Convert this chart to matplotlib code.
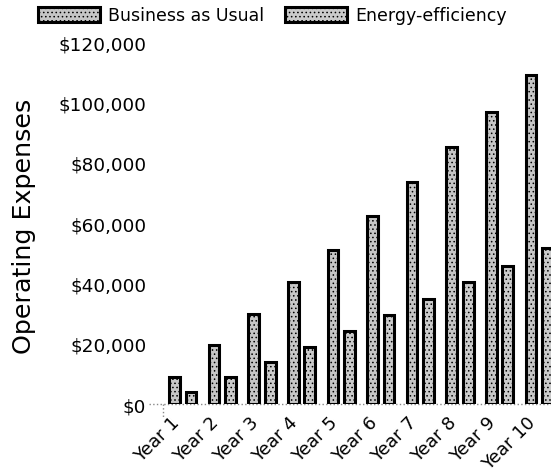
import numpy as np
import matplotlib
matplotlib.use("Agg")
import matplotlib.pyplot as plt
from matplotlib.ticker import FuncFormatter

# yearly operating expenses, dollars
years = ["Year 1", "Year 2", "Year 3", "Year 4", "Year 5",
         "Year 6", "Year 7", "Year 8", "Year 9", "Year 10"]
business_as_usual = [9200, 19500, 30000, 40500, 51200, 62500, 73700, 85300, 96900, 109000]
energy_efficiency = [4000, 9000, 13900, 18900, 24200, 29500, 34900, 40400, 46000, 51900]

plt.rcParams["hatch.linewidth"] = 0.6
plt.rcParams["hatch.color"] = "#7a7a7a"

fig = plt.figure(figsize=(5.51, 4.77), dpi=100)
# axes runs a little past the right edge, so the last bar gets clipped
ax = fig.add_axes([0.2957, 0.1503, 0.7187, 0.7589])

x = np.arange(len(years))
w = 0.27
off = 0.208
b1 = ax.bar(x - off, business_as_usual, w, color="#c6c6c6", edgecolor="black",
            linewidth=2.2, hatch="....", label="Business as Usual", zorder=3)
b2 = ax.bar(x + off, energy_efficiency, w, color="#cbcbcb", edgecolor="black",
            linewidth=2.2, hatch="....", label="Energy-efficiency", zorder=3)

ax.set_xlim(-0.5, 9.5)
ax.set_ylim(0, 120000)
ax.set_yticks(range(0, 120001, 20000))
ax.yaxis.set_major_formatter(FuncFormatter(lambda v, p: "${:,.0f}".format(v)))
ax.tick_params(axis="y", length=0, pad=12, labelsize=13.3)
ax.set_xticks(x)
ax.set_xticklabels(years, rotation=45, ha="right", fontsize=13)
ax.tick_params(axis="x", length=0, pad=6)

for s in ax.spines.values():
    s.set_visible(False)

# dotted baseline with a stub below the left end
ax.plot([-0.035, 1.0], [0, 0], transform=ax.transAxes, color="#888888",
        linestyle=":", linewidth=1, clip_on=False, zorder=2)
ax.plot([0, 0], [0, -0.035], transform=ax.transAxes, color="#888888",
        linestyle=":", linewidth=1, clip_on=False, zorder=2)

fig.text(24 / 551, 1 - 226 / 477, "Operating Expenses", rotation=90,
         ha="center", va="center", fontsize=18.3)

fig.legend(handles=[b1, b2], loc="center", bbox_to_anchor=(0.494, 0.966),
           ncol=2, frameon=False, fontsize=12.5, handlelength=3.6,
           handleheight=1.0, handletextpad=0.45, columnspacing=1.2)

fig.savefig("out.png", dpi=100)
